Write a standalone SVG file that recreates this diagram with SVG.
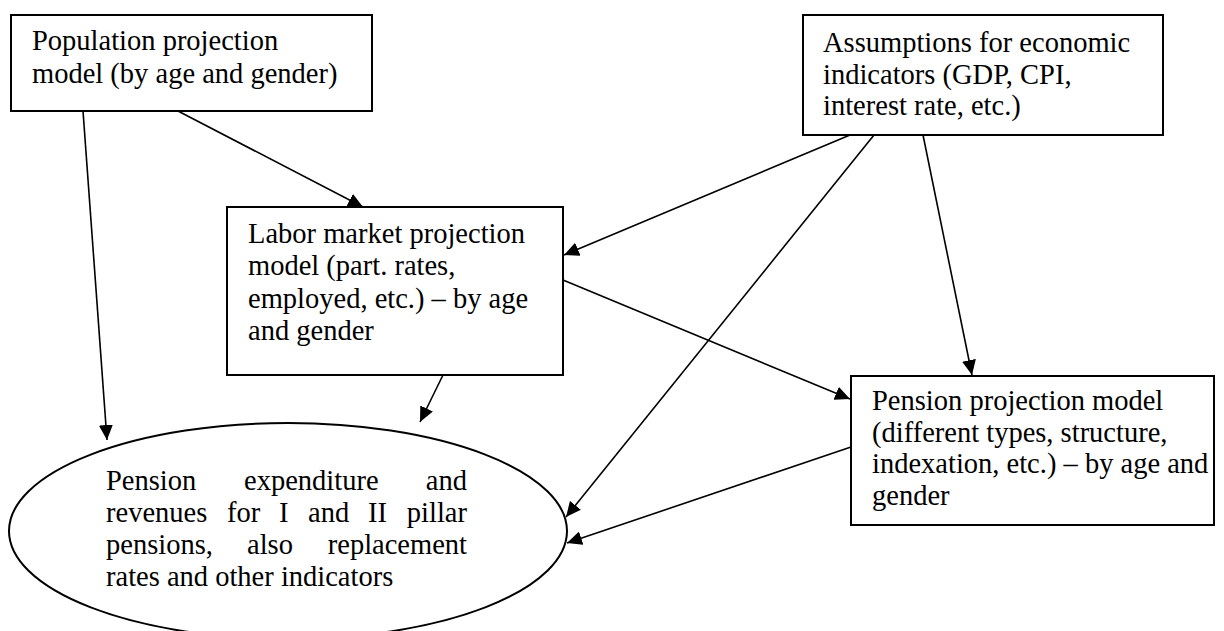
<svg xmlns="http://www.w3.org/2000/svg" width="1224" height="631" viewBox="0 0 1224 631">
<style>
.box{fill:#fff;stroke:#000;stroke-width:2}
.t{font-size:28.5px;fill:#000}
.c{fill:none;stroke:#000;stroke-width:1.6}
</style>
<defs>
<marker id="ah" markerUnits="userSpaceOnUse" markerWidth="16" markerHeight="14" refX="15" refY="7" orient="auto">
<path d="M0,0 L15,7 L0,14 z" fill="#000"/>
</marker>
</defs>
<rect width="1224" height="631" fill="#fff"/>
<g font-family="'Liberation Serif', 'DejaVu Serif', serif">
<g id="population">
<rect class="box" x="11" y="15" width="361" height="96"/>
<text class="t" x="32" y="50">Population projection</text>
<text class="t" x="32" y="83">model (by age and gender)</text>
</g>
<g id="assumptions">
<rect class="box" x="803" y="15" width="360" height="120"/>
<text class="t" x="823" y="52">Assumptions for economic</text>
<text class="t" x="823" y="84">indicators (GDP, CPI,</text>
<text class="t" x="823" y="115">interest rate, etc.)</text>
</g>
<g id="labor">
<rect class="box" x="227" y="207" width="336" height="168"/>
<text class="t" x="248" y="243">Labor market projection</text>
<text class="t" x="248" y="275">model (part. rates,</text>
<text class="t" x="248" y="308">employed, etc.) – by age</text>
<text class="t" x="248" y="340">and gender</text>
</g>
<g id="pension">
<rect class="box" x="851" y="376" width="363" height="149"/>
<text class="t" x="872" y="410">Pension projection model</text>
<text class="t" x="872" y="442">(different types, structure,</text>
<text class="t" x="872" y="473">indexation, etc.) – by age and</text>
<text class="t" x="872" y="505">gender</text>
</g>
<g id="expenditure">
<ellipse class="box" cx="288" cy="531" rx="279" ry="108"/>
<text class="t" x="106" y="490">Pension</text>
<text class="t" x="244" y="490">expenditure</text>
<text class="t" x="467" y="490" text-anchor="end">and</text>
<text class="t" x="106" y="522">revenues</text>
<text class="t" x="227" y="522">for</text>
<text class="t" x="279" y="522">I</text>
<text class="t" x="308" y="522">and</text>
<text class="t" x="368" y="522">II</text>
<text class="t" x="467" y="522" text-anchor="end">pillar</text>
<text class="t" x="106" y="554">pensions,</text>
<text class="t" x="247" y="554">also</text>
<text class="t" x="467" y="554" text-anchor="end">replacement</text>
<text class="t" x="106" y="586">rates and other indicators</text>
</g>
</g>
<g id="connectors">
<line class="c" x1="178" y1="111" x2="363" y2="207" marker-end="url(#ah)"/>
<line class="c" x1="83" y1="111" x2="107" y2="440" marker-end="url(#ah)"/>
<line class="c" x1="850" y1="135" x2="564" y2="255" marker-end="url(#ah)"/>
<line class="c" x1="874" y1="135" x2="566" y2="517" marker-end="url(#ah)"/>
<line class="c" x1="923" y1="135" x2="972" y2="375" marker-end="url(#ah)"/>
<line class="c" x1="443" y1="375" x2="420" y2="422" marker-end="url(#ah)"/>
<line class="c" x1="563" y1="280" x2="850" y2="399" marker-end="url(#ah)"/>
<line class="c" x1="851" y1="447" x2="567" y2="543" marker-end="url(#ah)"/>
</g>
</svg>
